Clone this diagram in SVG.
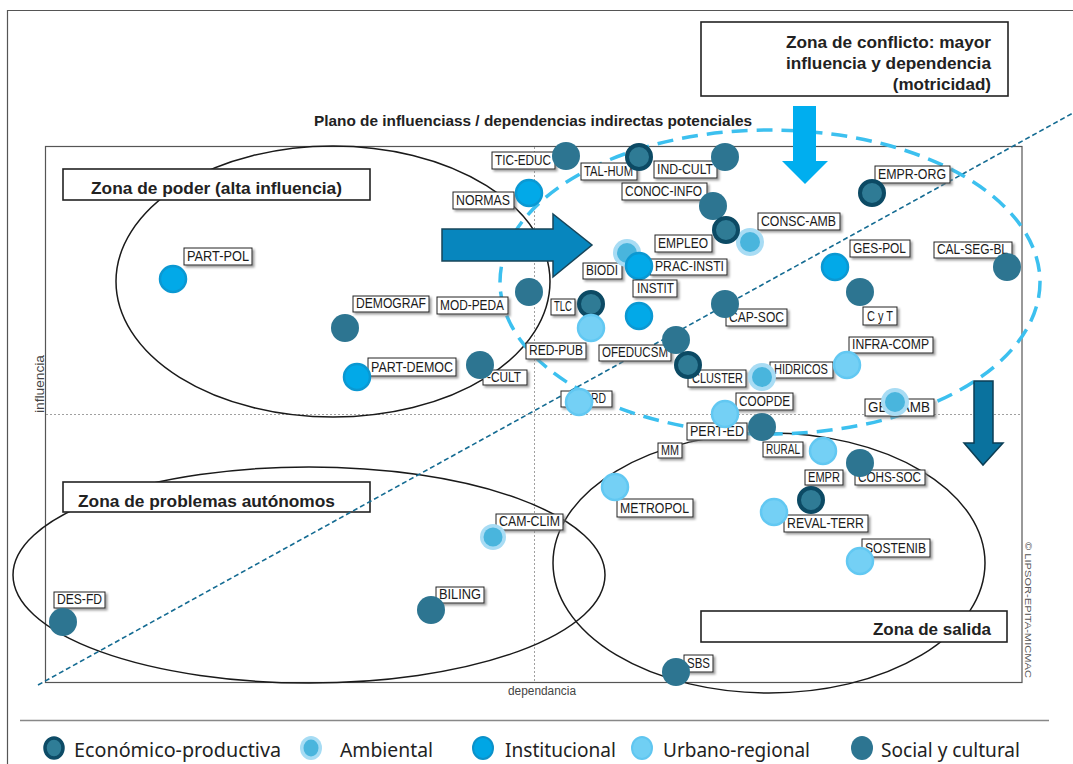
<svg xmlns="http://www.w3.org/2000/svg" width="1073" height="764" viewBox="0 0 1073 764">
<style>
.bg{fill:#fff}
.frm{fill:none;stroke:#555;stroke-width:1.2}
.mid{fill:none;stroke:#a0a0a0;stroke-width:1;stroke-dasharray:2,2}
.zone{fill:none;stroke:#1a1a1a;stroke-width:1.5}
.zbox{fill:#fff;stroke:#222;stroke-width:1.6}
.ztxt{font-family:"Liberation Sans",Arial,sans-serif;font-weight:bold;font-size:17px;fill:#222}
.lb{fill:#fff;stroke:#222;stroke-width:1;filter:url(#sh)}
.lt{font-family:"Liberation Sans",Arial,sans-serif;font-size:14.5px;fill:#1b1b1b}
.ax{font-family:"Liberation Sans",Arial,sans-serif;font-size:12px;fill:#444}
.eco{fill:#2f7b95;stroke:#0c4a64;stroke-width:4}
.amb-o{fill:#a8dcf4}
.amb-i{fill:#49b5dd}
.ins{fill:#02a9e8;stroke:#0b98d2;stroke-width:2.5}
.urb{fill:#74d0f5;stroke:#62c8f2;stroke-width:2.5}
.soc{fill:#2d7591}
.leg{font-family:"Noto Sans","Open Sans",sans-serif;font-size:20px;fill:#222}
</style>
<defs>
<filter id="sh" x="-15%" y="-30%" width="140%" height="180%">
<feDropShadow dx="2" dy="2" stdDeviation="1.2" flood-color="#777" flood-opacity="0.7"/>
</filter>
</defs>
<rect class="bg" x="0" y="0" width="1073" height="764"/>
<!-- outer frame -->
<path d="M7.5,764 V10.5 H1073" fill="none" stroke="#555" stroke-width="1.2"/>
<!-- plot frame -->
<rect class="frm" x="45.5" y="146.5" width="976.5" height="536"/>
<line class="mid" x1="534.5" y1="147" x2="534.5" y2="682"/>
<line class="mid" x1="46" y1="414.5" x2="1021" y2="414.5"/>
<text class="ax" x="0" y="0" transform="translate(44,413) rotate(-90)" textLength="58" lengthAdjust="spacingAndGlyphs">influencia</text>
<text class="ax" x="508" y="695" textLength="68" lengthAdjust="spacingAndGlyphs">dependancia</text>
<text x="0" y="0" transform="translate(1025,542) rotate(90)" font-family="Liberation Sans,Arial,sans-serif" font-size="9" fill="#555" textLength="136" lengthAdjust="spacingAndGlyphs">© LIPSOR-EPITA-MICMAC</text>
<!-- title -->
<text x="314" y="126" font-family="Liberation Sans,Arial,sans-serif" font-weight="bold" font-size="15" fill="#222" textLength="438" lengthAdjust="spacingAndGlyphs">Plano de influenciass / dependencias indirectas potenciales</text>
<!-- zone ellipses -->
<g id="zones">
<ellipse class="zone" cx="333" cy="281.5" rx="217" ry="135.5"/>
<ellipse class="zone" cx="309" cy="575" rx="296" ry="108"/>
<ellipse class="zone" cx="769" cy="563" rx="216" ry="130"/>
</g>
<!-- zone labels -->
<g id="zona-poder">
<rect class="zbox" x="63" y="169" width="307" height="31"/>
<text class="ztxt" x="91" y="194" textLength="251" lengthAdjust="spacingAndGlyphs">Zona de poder (alta influencia)</text>
</g>
<g id="zona-autonomos">
<rect class="zbox" x="63" y="482" width="307" height="30"/>
<text class="ztxt" x="78" y="507" textLength="257" lengthAdjust="spacingAndGlyphs">Zona de problemas autónomos</text>
</g>
<g id="zona-salida">
<rect class="zbox" x="701" y="611" width="306" height="31"/>
<text class="ztxt" x="991" y="635" text-anchor="end">Zona de salida</text>
</g>
<g id="zona-conflicto">
<rect class="zbox" x="701" y="22" width="307" height="74"/>
<text class="ztxt" x="991" y="48" text-anchor="end" textLength="205" lengthAdjust="spacingAndGlyphs">Zona de conflicto: mayor</text>
<text class="ztxt" x="991" y="69" text-anchor="end" textLength="205" lengthAdjust="spacingAndGlyphs">influencia y dependencia</text>
<text class="ztxt" x="991" y="90" text-anchor="end">(motricidad)</text>
</g>
<!-- connectors / guide lines and arrows -->
<g id="connectors">
<line x1="38" y1="685" x2="1073" y2="113" stroke="#146b92" stroke-width="1.6" stroke-dasharray="5,3"/>
<ellipse cx="770" cy="282" rx="270" ry="152" fill="none" stroke="#3cc0ef" stroke-width="3.5" stroke-dasharray="16,9"/>
<polygon points="442,229 553,229 553,214 592,245 553,277 553,261 442,261" fill="#0786be" stroke="#17455a" stroke-width="1.5"/>
<polygon points="793,106 816,106 816,161 828,161 805,184 782,161 793,161" fill="#00aeef"/>
<polygon points="974,381 993,381 993,443 1003,443 983,465 964,443 974,443" fill="#0a729e" stroke="#0b3e55" stroke-width="1.5"/>
</g>
<!-- nodes -->
<g id="n-tic-educ"><rect class="lb" x="492" y="152" width="63" height="17"/><text class="lt" x="495" y="165" textLength="56" lengthAdjust="spacingAndGlyphs">TIC-EDUC</text><circle class="soc" cx="566" cy="156" r="14"/></g>
<g id="n-tal-hum"><rect class="lb" x="581" y="163" width="56" height="17"/><text class="lt" x="584" y="176" textLength="49" lengthAdjust="spacingAndGlyphs">TAL-HUM</text><circle class="eco" cx="639" cy="157" r="12"/></g>
<g id="n-ind-cult"><rect class="lb" x="654" y="161" width="63" height="17"/><text class="lt" x="657" y="174" textLength="56" lengthAdjust="spacingAndGlyphs">IND-CULT</text><circle class="soc" cx="725" cy="157" r="14"/></g>
<g id="n-normas"><rect class="lb" x="453" y="192" width="61" height="17"/><text class="lt" x="456" y="205" textLength="54" lengthAdjust="spacingAndGlyphs">NORMAS</text><circle class="ins" cx="529" cy="193" r="13"/></g>
<g id="n-conoc-info"><rect class="lb" x="622" y="183" width="85" height="17"/><text class="lt" x="625" y="196" textLength="77" lengthAdjust="spacingAndGlyphs">CONOC-INFO</text><circle class="soc" cx="713" cy="206" r="14"/></g>
<g id="n-consc-amb"><rect class="lb" x="758" y="213" width="82" height="17"/><text class="lt" x="761" y="226" textLength="75" lengthAdjust="spacingAndGlyphs">CONSC-AMB</text><circle class="amb-o" cx="750" cy="242" r="14"/><circle class="amb-i" cx="750" cy="242" r="10"/></g>
<g id="n-empleo"><rect class="lb" x="655" y="235" width="57" height="17"/><text class="lt" x="658" y="248" textLength="50" lengthAdjust="spacingAndGlyphs">EMPLEO</text><circle class="eco" cx="726" cy="230" r="12"/></g>
<g id="n-biodi"><rect class="lb" x="583" y="263" width="39" height="16"/><text class="lt" x="586" y="275" textLength="32" lengthAdjust="spacingAndGlyphs">BIODI</text><circle class="amb-o" cx="627" cy="253" r="14"/><circle class="amb-i" cx="627" cy="253" r="10"/></g>
<g id="n-prac-insti"><rect class="lb" x="650" y="259" width="77" height="16"/><text class="lt" x="655" y="271" textLength="69" lengthAdjust="spacingAndGlyphs">PRAC-INSTI</text><circle class="ins" cx="639" cy="266" r="13"/></g>
<g id="n-instit"><rect class="lb" x="633" y="280" width="44" height="17"/><text class="lt" x="637" y="293" textLength="37" lengthAdjust="spacingAndGlyphs">INSTIT</text><circle class="ins" cx="639" cy="316" r="13"/></g>
<g id="n-mod-peda"><rect class="lb" x="437" y="297" width="71" height="17"/><text class="lt" x="440" y="310" textLength="64" lengthAdjust="spacingAndGlyphs">MOD-PEDA</text><circle class="soc" cx="529" cy="292" r="14"/></g>
<g id="n-tlc"><rect class="lb" x="551" y="299" width="24" height="16"/><text class="lt" x="554" y="311" textLength="18" lengthAdjust="spacingAndGlyphs">TLC</text><circle class="eco" cx="591" cy="304" r="12"/></g>
<g id="n-red-pub"><rect class="lb" x="526" y="343" width="60" height="16"/><text class="lt" x="529" y="355" textLength="54" lengthAdjust="spacingAndGlyphs">RED-PUB</text><circle class="urb" cx="591" cy="328" r="13"/></g>
<g id="n-ofeducsm"><rect class="lb" x="599" y="345" width="72" height="16"/><text class="lt" x="602" y="357" textLength="66" lengthAdjust="spacingAndGlyphs">OFEDUCSM</text><circle class="soc" cx="676" cy="340" r="14"/></g>
<g id="n-cluster"><rect class="lb" x="688" y="370" width="58" height="17"/><text class="lt" x="692" y="383" textLength="51" lengthAdjust="spacingAndGlyphs">CLUSTER</text><circle class="eco" cx="688" cy="365" r="12"/></g>
<g id="n-hidricos"><rect class="lb" x="770" y="362" width="63" height="16"/><text class="lt" x="774" y="374" textLength="54" lengthAdjust="spacingAndGlyphs">HIDRICOS</text><circle class="amb-o" cx="762" cy="377" r="14"/><circle class="amb-i" cx="762" cy="377" r="10"/></g>
<g id="n-cap-soc"><rect class="lb" x="726" y="309" width="61" height="17"/><text class="lt" x="729" y="322" textLength="55" lengthAdjust="spacingAndGlyphs">CAP-SOC</text><circle class="soc" cx="725" cy="304" r="14"/></g>
<g id="n-empr-org"><rect class="lb" x="875" y="166" width="75" height="17"/><text class="lt" x="878" y="179" textLength="68" lengthAdjust="spacingAndGlyphs">EMPR-ORG</text><circle class="eco" cx="872" cy="193" r="12"/></g>
<g id="n-ges-pol"><rect class="lb" x="850" y="240" width="60" height="17"/><text class="lt" x="853" y="253" textLength="53" lengthAdjust="spacingAndGlyphs">GES-POL</text><circle class="ins" cx="835" cy="267" r="13"/></g>
<g id="n-cyt"><rect class="lb" x="863" y="307" width="34" height="18"/><text class="lt" x="867" y="321" textLength="26" lengthAdjust="spacingAndGlyphs">C y T</text><circle class="soc" cx="860" cy="292" r="14"/></g>
<g id="n-cal-seg-bl"><rect class="lb" x="934" y="242" width="78" height="16"/><text class="lt" x="937" y="254" textLength="71" lengthAdjust="spacingAndGlyphs">CAL-SEG-BL</text><circle class="soc" cx="1007" cy="267" r="14"/></g>
<g id="n-infra-comp"><rect class="lb" x="849" y="337" width="84" height="16"/><text class="lt" x="852" y="349" textLength="77" lengthAdjust="spacingAndGlyphs">INFRA-COMP</text><circle class="urb" cx="847" cy="365" r="13"/></g>
<g id="n-ges-amb"><rect class="lb" x="865" y="399" width="69" height="17"/><text class="lt" x="868" y="412" textLength="62" lengthAdjust="spacingAndGlyphs">GES-AMB</text><circle class="amb-o" cx="895" cy="402" r="14"/><circle class="amb-i" cx="895" cy="402" r="10"/></g>
<g id="n-pert-ed"><rect class="lb" x="687" y="423" width="60" height="17"/><text class="lt" x="690" y="436" textLength="54" lengthAdjust="spacingAndGlyphs">PERT-ED</text><circle class="soc" cx="762" cy="427" r="14"/></g>
<g id="n-coopde"><rect class="lb" x="736" y="393" width="57" height="17"/><text class="lt" x="739" y="406" textLength="51" lengthAdjust="spacingAndGlyphs">COOPDE</text><circle class="urb" cx="725" cy="414" r="13"/></g>
<g id="n-mm"><rect class="lb" x="658" y="443" width="24" height="15"/><text class="lt" x="661" y="455" textLength="18" lengthAdjust="spacingAndGlyphs">MM</text></g>
<g id="n-rural"><rect class="lb" x="763" y="442" width="40" height="15"/><text class="lt" x="766" y="454" textLength="34" lengthAdjust="spacingAndGlyphs">RURAL</text><circle class="urb" cx="823" cy="451" r="13"/></g>
<g id="n-cohs-soc"><rect class="lb" x="855" y="470" width="70" height="15"/><text class="lt" x="858" y="482" textLength="63" lengthAdjust="spacingAndGlyphs">COHS-SOC</text><circle class="soc" cx="860" cy="463" r="14"/></g>
<g id="n-empr"><rect class="lb" x="805" y="470" width="38" height="15"/><text class="lt" x="808" y="482" textLength="32" lengthAdjust="spacingAndGlyphs">EMPR</text><circle class="eco" cx="811" cy="500" r="12"/></g>
<g id="n-metropol"><rect class="lb" x="617" y="499" width="76" height="18"/><text class="lt" x="620" y="513" textLength="69" lengthAdjust="spacingAndGlyphs">METROPOL</text><circle class="urb" cx="615" cy="487" r="13"/></g>
<g id="n-reval-terr"><rect class="lb" x="784" y="515" width="84" height="17"/><text class="lt" x="787" y="528" textLength="77" lengthAdjust="spacingAndGlyphs">REVAL-TERR</text><circle class="urb" cx="774" cy="512" r="13"/></g>
<g id="n-sostenib"><rect class="lb" x="862" y="539" width="68" height="18"/><text class="lt" x="865" y="553" textLength="61" lengthAdjust="spacingAndGlyphs">SOSTENIB</text><circle class="urb" cx="860" cy="561" r="13"/></g>
<g id="n-sbs"><rect class="lb" x="684" y="655" width="29" height="17"/><text class="lt" x="687" y="668" textLength="23" lengthAdjust="spacingAndGlyphs">SBS</text><circle class="soc" cx="676" cy="672" r="14"/></g>
<g id="n-cam-clim"><rect class="lb" x="496" y="514" width="67" height="16"/><text class="lt" x="499" y="526" textLength="61" lengthAdjust="spacingAndGlyphs">CAM-CLIM</text><circle class="amb-o" cx="493" cy="537" r="13"/><circle class="amb-i" cx="493" cy="537" r="9.5"/></g>
<g id="n-biling"><rect class="lb" x="436" y="587" width="48" height="16"/><text class="lt" x="439" y="599" textLength="42" lengthAdjust="spacingAndGlyphs">BILING</text><circle class="soc" cx="431" cy="610" r="14"/></g>
<g id="n-des-fd"><rect class="lb" x="54" y="592" width="51" height="16"/><text class="lt" x="57" y="604" textLength="45" lengthAdjust="spacingAndGlyphs">DES-FD</text><circle class="soc" cx="63" cy="622" r="14"/></g>
<g id="n-part-pol"><rect class="lb" x="184" y="248" width="68" height="17"/><text class="lt" x="187" y="261" textLength="62" lengthAdjust="spacingAndGlyphs">PART-POL</text><circle class="ins" cx="173" cy="279" r="13"/></g>
<g id="n-demograf"><rect class="lb" x="353" y="296" width="76" height="16"/><text class="lt" x="356" y="308" textLength="70" lengthAdjust="spacingAndGlyphs">DEMOGRAF</text><circle class="soc" cx="345" cy="328" r="14"/></g>
<g id="n-part-democ"><rect class="lb" x="368" y="358" width="88" height="18"/><text class="lt" x="371" y="372" textLength="82" lengthAdjust="spacingAndGlyphs">PART-DEMOC</text><circle class="ins" cx="357" cy="377" r="13"/></g>
<g id="n-cult"><rect class="lb" x="483" y="370" width="44" height="15"/><text class="lt" x="487" y="382" textLength="34" lengthAdjust="spacingAndGlyphs">-CULT</text><circle class="soc" cx="480" cy="365" r="14"/></g>
<g id="n-rd"><rect class="lb" x="561" y="391" width="51" height="16"/><text class="lt" x="591" y="403" textLength="15" lengthAdjust="spacingAndGlyphs">RD</text><circle class="urb" cx="579" cy="402" r="13"/></g>
<!-- legend -->
<g id="legend">
<line x1="20" y1="720.5" x2="1049" y2="720.5" stroke="#888" stroke-width="1.5"/>
<ellipse cx="54" cy="748" rx="9" ry="10" fill="#2f7d97" stroke="#0d4b66" stroke-width="3.5"/>
<text class="leg" x="74" y="757" textLength="207" lengthAdjust="spacingAndGlyphs">Económico-productiva</text>
<ellipse cx="311" cy="748" rx="11" ry="12" fill="#a6dcf4"/>
<ellipse cx="311" cy="748" rx="7.5" ry="8.5" fill="#4ab5dd"/>
<text class="leg" x="340" y="757" textLength="93" lengthAdjust="spacingAndGlyphs">Ambiental</text>
<ellipse cx="483" cy="748" rx="10" ry="11" fill="#00a6e5" stroke="#0b91c9" stroke-width="2"/>
<text class="leg" x="505" y="757" textLength="111" lengthAdjust="spacingAndGlyphs">Institucional</text>
<ellipse cx="642" cy="748" rx="10" ry="11" fill="#70cff4" stroke="#60c6f0" stroke-width="2"/>
<text class="leg" x="663" y="757" textLength="147" lengthAdjust="spacingAndGlyphs">Urbano-regional</text>
<ellipse cx="862" cy="748" rx="11" ry="12" fill="#2d7591"/>
<text class="leg" x="881" y="757" textLength="139" lengthAdjust="spacingAndGlyphs">Social y cultural</text>
</g>
</svg>
